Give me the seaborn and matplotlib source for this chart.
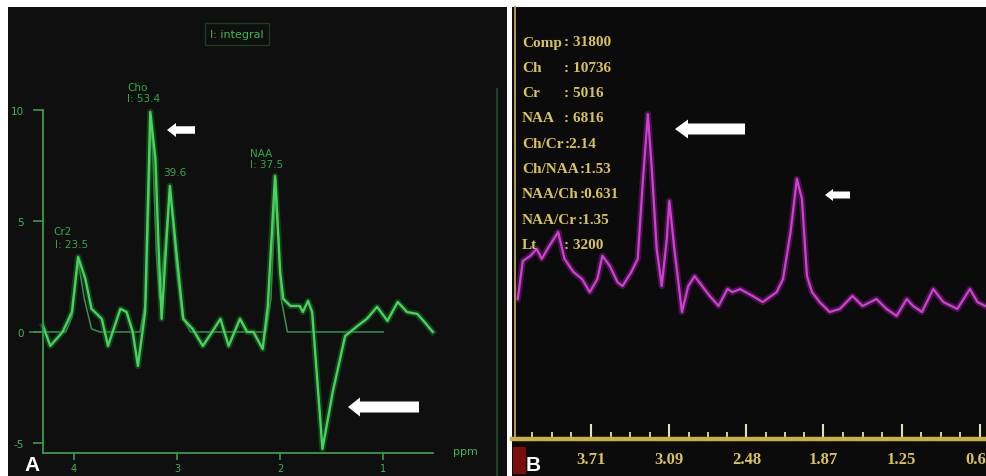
import matplotlib
matplotlib.use("Agg")
import numpy as np
import pandas as pd
import seaborn as sns
import matplotlib.pyplot as plt
import matplotlib.transforms as mtransforms
from matplotlib.patches import FancyArrow, Rectangle
from matplotlib.lines import Line2D
from matplotlib import font_manager

# ---------------- Panel A data (ppm, amplitude) ----------------
a_ppm = [4.30, 4.23, 4.11, 4.02, 3.96, 3.89, 3.83, 3.73, 3.67, 3.55,
         3.49, 3.43, 3.38, 3.31, 3.26, 3.21, 3.18, 3.15, 3.07, 3.00,
         2.94, 2.85, 2.75, 2.66, 2.58, 2.50, 2.39, 2.32, 2.26, 2.17,
         2.12, 2.05, 2.00, 1.97, 1.90, 1.81, 1.78, 1.73, 1.69, 1.59,
         1.49, 1.37, 1.25, 1.16, 1.06, 0.96, 0.86, 0.77, 0.67, 0.61, 0.52]
a_amp = [0.27, -0.63, 0.00, 0.90, 3.38, 2.39, 1.04, 0.59, -0.63, 1.04,
         0.90, 0.00, -1.53, 0.90, 9.91, 7.79, 3.87, 0.59, 6.58, 3.29,
         0.59, 0.14, -0.63, 0.00, 0.59, -0.63, 0.59, 0.00, 0.00, -0.77,
         1.17, 7.03, 2.70, 1.49, 1.17, 1.17, 0.90, 1.40, 0.90, -5.27,
         -2.70, -0.18, 0.27, 0.59, 1.13, 0.50, 1.35, 0.90, 0.81, 0.50, 0.00]
a_fit_ppm = [4.43, 4.08, 4.02, 3.96, 3.90, 3.83, 3.75, 3.36, 3.30, 3.25,
             3.20, 3.17, 3.12, 3.07, 3.01, 2.95, 2.87, 2.14, 2.09, 2.04,
             1.99, 1.93, 1.00]
a_fit_amp = [0, 0, 0.68, 3.20, 1.49, 0.14, 0, 0, 1.49, 9.77,
             3.51, 1.49, 3.74, 6.44, 3.06, 0.68, 0, 0, 1.49, 6.89,
             1.49, 0, 0]
a_yticks = [10, 5, 0, -5]
a_ytick_labels = ["10", "5", "0", "-5"]
a_xticks = [4, 3, 2, 1]
a_xtick_labels = ["4", "3", "2", "1"]
a_peak_labels = ["Cr2", "I: 23.5", "Cho", "I: 53.4", "39.6", "NAA", "I: 37.5"]
a_title = "I: integral"
a_unit = "ppm"

# ---------------- Panel B data (ppm, amplitude) ----------------
b_ppm = [4.29, 4.25, 4.19, 4.14, 4.10, 4.04, 3.97, 3.92, 3.85, 3.78,
         3.72, 3.66, 3.62, 3.56, 3.50, 3.46, 3.39, 3.34, 3.30, 3.26,
         3.23, 3.19, 3.15, 3.11, 3.09, 3.05, 2.99, 2.94, 2.89, 2.83,
         2.77, 2.70, 2.63, 2.59, 2.53, 2.43, 2.35, 2.24, 2.19, 2.13,
         2.08, 2.04, 2.00, 1.96, 1.90, 1.82, 1.74, 1.64, 1.56, 1.45,
         1.37, 1.29, 1.21, 1.16, 1.09, 1.00, 0.92, 0.81, 0.71, 0.65, 0.59]
b_amp = [32.4, 41.2, 42.4, 44.0, 41.7, 44.7, 47.9, 41.7, 38.7, 37.0,
         34.0, 37.0, 42.4, 40.0, 36.3, 35.4, 38.7, 41.7, 59.5, 75.2,
         63.2, 44.0, 35.4, 46.3, 55.1, 44.0, 29.4, 35.4, 37.7, 35.4,
         33.1, 30.8, 34.7, 34.0, 34.7, 33.1, 31.7, 34.0, 37.0, 47.9,
         60.2, 55.6, 37.7, 34.0, 31.7, 29.4, 30.1, 33.1, 30.8, 32.4,
         30.1, 28.5, 32.4, 30.8, 29.4, 34.7, 31.7, 30.1, 34.7, 31.7, 30.8]
b_xticks = [3.71, 3.09, 2.48, 1.87, 1.25, 0.63]
b_xtick_labels = ["3.71", "3.09", "2.48", "1.87", "1.25", "0.63"]
b_info_labels = ["Comp", "Ch", "Cr", "NAA", "Ch/Cr", "Ch/NAA", "NAA/Ch", "NAA/Cr", "Lt"]
b_info_values = [": 31800", ": 10736", ": 5016", ": 6816", ":2.14", ":1.53", ":0.631", ":1.35", ": 3200"]

# ---------------- layout / style ----------------
W, H = 987, 477
fig = plt.figure(figsize=(W / 100, H / 100), dpi=100, facecolor="white")
PX = mtransforms.Affine2D().scale(1 / W, -1 / H).translate(0, 1) + fig.transFigure

names = {f.name for f in font_manager.fontManager.ttflist}
INFO_FONT = "Liberation Sans Narrow" if "Liberation Sans Narrow" in names else "Liberation Serif"

G_AXIS = "#3a9a4c"
G_LINE = "#46d45a"
G_TEXT = "#3cb84e"
Y_TEXT = "#d8c25c"

# ---- Panel A ----
axA = fig.add_axes([8 / W, 0, (507 - 8) / W, (477 - 8) / H])
axA.set_facecolor("#0f0f0f")
sns.lineplot(x=a_fit_ppm, y=a_fit_amp, ax=axA, color="#3c8f4c", lw=1.1,
             sort=False, estimator=None)
sns.lineplot(x=a_ppm, y=a_amp, ax=axA, color="#1f7a30", lw=4.5, alpha=0.45,
             sort=False, estimator=None)
sns.lineplot(x=a_ppm, y=a_amp, ax=axA, color=G_LINE, lw=1.7,
             sort=False, estimator=None)
axA.set_xlim(4.64, -0.20)
axA.set_ylim(-6.49, 14.64)
axA.spines["top"].set_visible(False)
axA.spines["right"].set_visible(False)
axA.spines["left"].set_position(("data", 4.30))
axA.spines["left"].set_bounds(-5.45, 10)
axA.spines["bottom"].set_position(("data", -5.45))
axA.spines["bottom"].set_bounds(4.30, 0.52)
for s in ("left", "bottom"):
    axA.spines[s].set_color(G_AXIS)
    axA.spines[s].set_linewidth(1.3)
axA.set_yticks(a_yticks, a_ytick_labels)
axA.set_xticks(a_xticks, a_xtick_labels)
axA.tick_params(axis="y", colors=G_AXIS, labelcolor=G_TEXT, length=7.5, width=1.2,
                direction="out", pad=6, labelsize=7.5)
axA.tick_params(axis="x", colors=G_AXIS, labelcolor=G_TEXT, length=5, width=1.2,
                direction="out", pad=2, labelsize=7)
axA.set_xlabel("")
axA.set_ylabel("")

# ---- Panel B ----
axB = fig.add_axes([512 / W, 0, (987 - 512) / W, (477 - 8) / H])
axB.set_facecolor("#0b0b0b")
sns.lineplot(x=b_ppm, y=b_amp, ax=axB, color="#6c1d70", lw=4.5, alpha=0.6,
             sort=False, estimator=None)
sns.lineplot(x=b_ppm, y=b_amp, ax=axB, color="#d23ed4", lw=1.6,
             sort=False, estimator=None)
axB.set_xlim(4.3355, 0.5746)
axB.set_ylim(-8.565, 100)
axB.spines["top"].set_visible(False)
axB.spines["right"].set_visible(False)
axB.spines["left"].set_position(("data", 4.308))
axB.spines["left"].set_bounds(0, 100)
axB.spines["left"].set_color("#b89a52")
axB.spines["left"].set_linewidth(1.4)
axB.spines["bottom"].set_position(("data", 0))
axB.spines["bottom"].set_color("#c9b04a")
axB.spines["bottom"].set_linewidth(3.2)
axB.set_yticks([])
axB.set_xticks(b_xticks, b_xtick_labels)
minor = []
for m0, m1 in zip(b_xticks[:-1], b_xticks[1:]):
    minor += [m0 + k * (m1 - m0) / 4 for k in (1, 2, 3)]
step0 = (b_xticks[0] - b_xticks[1]) / 4
minor += [b_xticks[0] + k * step0 for k in (1, 2, 3)]
axB.set_xticks(minor, minor=True)
axB.tick_params(axis="x", which="major", direction="in", length=11, width=1.5,
                colors="#e6dfb0", labelcolor=Y_TEXT, pad=9, labelsize=12)
axB.tick_params(axis="x", which="minor", direction="in", length=5, width=1.3,
                colors="#e6dfb0")
for lab in axB.get_xticklabels():
    lab.set_fontfamily(INFO_FONT)
    lab.set_fontweight("bold")
axB.set_xlabel("")
axB.set_ylabel("")

# ---- annotations (pixel positions) ----
def ptext(x, y, s, **kw):
    return fig.text(x, y, s, transform=PX, **kw)

gkw = dict(color=G_TEXT, fontsize=7.5, ha="left", va="center", alpha=0.9)
label_pos = [(53, 232), (55, 245), (127, 88), (127, 99), (163, 173), (250, 154), (250, 165)]
for (x, y), s in zip(label_pos, a_peak_labels):
    ptext(x, y, s, **gkw)
ptext(237, 35, a_title, color=G_TEXT, fontsize=8, ha="center", va="center",
      bbox=dict(boxstyle="square,pad=0.5", fc="none", ec="#1e3a22", lw=1))
ptext(453, 452, a_unit, color=G_TEXT, fontsize=8, ha="left", va="center")

fig.add_artist(Line2D([497, 497], [90, 477], transform=PX, color="#1c4426", lw=1.5))

ikw = dict(color=Y_TEXT, fontsize=11, ha="left", va="center",
           family=INFO_FONT, fontweight="bold")
renderer = fig.canvas.get_renderer()
for i, (lab, val) in enumerate(zip(b_info_labels, b_info_values)):
    y = 43 + 25.3 * i
    t = ptext(522, y, lab, **ikw)
    right_px = t.get_window_extent(renderer).x1
    ptext(max(564, right_px + 1), y, val, **ikw)

fig.add_artist(Rectangle((513, 448), 13, 27, transform=PX, color="#7a0e0e", lw=0))

lkw = dict(color="white", fontsize=15, fontweight="bold", ha="left", va="center",
           family="Liberation Sans")
ptext(24, 466, "A", **lkw)
ptext(526, 466, "B", **lkw)

# arrows: (tip_x, tail_x, y, shaft, head_w, head_l)
arrows = [(167, 195, 131, 7.5, 14, 9),
          (348, 419, 408, 11, 19, 12),
          (675, 745, 130, 11, 19, 13),
          (825, 850, 196, 7, 12, 8)]
for tip, tail, y, t, hw, hl in arrows:
    fig.add_artist(FancyArrow(tail, y, tip - tail, 0, width=t, head_width=hw,
                              head_length=hl, length_includes_head=True,
                              color="white", lw=0, transform=PX))

fig.savefig("out.png", dpi=100, facecolor="white")
